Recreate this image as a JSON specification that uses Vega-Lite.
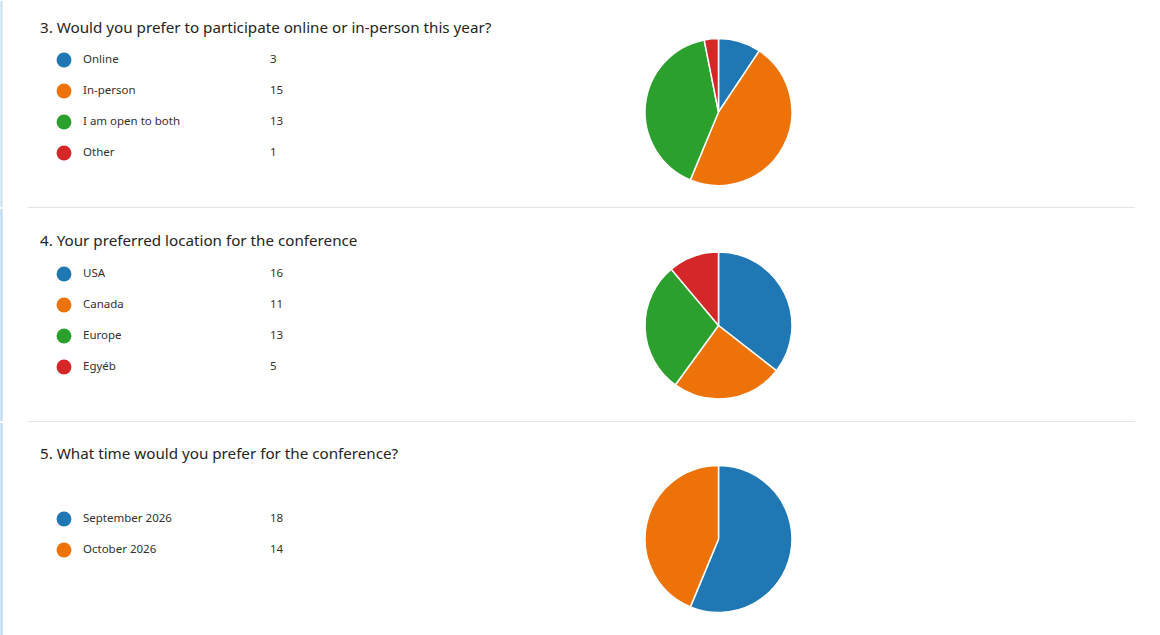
{
  "$schema": "https://vega.github.io/schema/vega-lite/v6.json",
  "background": "white",
  "padding": {"left": 0, "top": 0, "right": 0, "bottom": 0},
  "datasets": {
    "survey": [
      {"q": 3, "question": "3. Would you prefer to participate online or in-person this year?", "option": "Online", "count": 3, "order": 1},
      {"q": 3, "question": "3. Would you prefer to participate online or in-person this year?", "option": "In-person", "count": 15, "order": 2},
      {"q": 3, "question": "3. Would you prefer to participate online or in-person this year?", "option": "I am open to both", "count": 13, "order": 3},
      {"q": 3, "question": "3. Would you prefer to participate online or in-person this year?", "option": "Other", "count": 1, "order": 4},
      {"q": 4, "question": "4. Your preferred location for the conference", "option": "USA", "count": 16, "order": 1},
      {"q": 4, "question": "4. Your preferred location for the conference", "option": "Canada", "count": 11, "order": 2},
      {"q": 4, "question": "4. Your preferred location for the conference", "option": "Europe", "count": 13, "order": 3},
      {"q": 4, "question": "4. Your preferred location for the conference", "option": "Egyéb", "count": 5, "order": 4},
      {"q": 5, "question": "5. What time would you prefer for the conference?", "option": "September 2026", "count": 18, "order": 1},
      {"q": 5, "question": "5. What time would you prefer for the conference?", "option": "October 2026", "count": 14, "order": 2}
    ]
  },
  "data": {"name": "survey"},
  "spacing": 0,
  "config": {
    "view": {"stroke": null},
    "font": "Noto Sans",
    "axisX": {"domain": true, "domainColor": "#e3e3e3", "domainWidth": 1, "ticks": false, "labels": false, "grid": false}
  },
  "vconcat": [
    {
      "width": 1108, "height": 207,
      "transform": [{"filter": "datum.q == 3"}],
      "layer": [
        {
          "transform": [{"aggregate": [], "groupby": ["question"]}],
          "mark": {"type": "rule", "color": "#bcdbe8", "strokeWidth": 1, "xOffset": -26, "yOffset": 1, "y2Offset": -1},
          "encoding": {
            "x": {"field": "question", "type": "nominal", "bandPosition": 0, "title": null, "scale": {"type": "band", "paddingInner": 0, "paddingOuter": 0}}
          }
        },
        {
          "transform": [{"aggregate": [], "groupby": ["question"]}],
          "mark": {"type": "rule", "color": "#bcdbe8", "strokeWidth": 1, "xOffset": -25, "yOffset": 1, "y2Offset": -1},
          "encoding": {
            "x": {"field": "question", "type": "nominal", "bandPosition": 0, "title": null}
          }
        },
        {
          "transform": [{"aggregate": [], "groupby": ["question"]}],
          "mark": {"type": "text", "align": "left", "baseline": "middle", "fontSize": 15.2, "color": "#252423", "xOffset": 13, "yOffset": -76},
          "encoding": {
            "x": {"field": "question", "type": "nominal", "bandPosition": 0, "title": null},
            "text": {"field": "question"}
          }
        },
        {
          "mark": {"type": "point", "filled": true, "opacity": 1, "size": 220, "shape": "circle", "xOffset": 37},
          "encoding": {
            "x": {"field": "question", "type": "nominal", "bandPosition": 0, "title": null},
            "y": {"field": "option", "type": "nominal", "sort": null, "axis": null, "bandPosition": 0.5, "scale": {"type": "band", "paddingInner": 0, "paddingOuter": 0, "range": [44.5, 168.5]}},
            "color": {"field": "order", "type": "nominal", "legend": null, "scale": {"domain": [1, 2, 3, 4], "range": ["#1f77b4", "#ed7207", "#2ca02c", "#d62728"]}}
          }
        },
        {
          "mark": {"type": "text", "align": "left", "baseline": "middle", "fontSize": 11.5, "color": "#323130", "xOffset": 56},
          "encoding": {
            "x": {"field": "question", "type": "nominal", "bandPosition": 0, "title": null},
            "y": {"field": "option", "type": "nominal", "sort": null, "axis": null, "bandPosition": 0.5},
            "text": {"field": "option"}
          }
        },
        {
          "mark": {"type": "text", "align": "left", "baseline": "middle", "fontSize": 11.5, "color": "#323130", "xOffset": 243},
          "encoding": {
            "x": {"field": "question", "type": "nominal", "bandPosition": 0, "title": null},
            "y": {"field": "option", "type": "nominal", "sort": null, "axis": null, "bandPosition": 0.5},
            "text": {"field": "count"}
          }
        },
        {
          "mark": {"type": "arc", "outerRadius": 73.5, "stroke": "white", "strokeWidth": 1.5, "xOffset": 137.5, "yOffset": 8.5},
          "encoding": {
            "theta": {"field": "count", "type": "quantitative", "stack": true},
            "order": {"field": "order", "type": "quantitative"},
            "color": {"field": "order", "type": "nominal", "legend": null}
          }
        }
      ]
    },
    {
      "width": 1108, "height": 213,
      "transform": [{"filter": "datum.q == 4"}],
      "layer": [
        {
          "transform": [{"aggregate": [], "groupby": ["question"]}],
          "mark": {"type": "rule", "color": "#a9cff2", "strokeWidth": 1, "xOffset": -26, "yOffset": 1, "y2Offset": -1},
          "encoding": {
            "x": {"field": "question", "type": "nominal", "bandPosition": 0, "title": null, "scale": {"type": "band", "paddingInner": 0, "paddingOuter": 0}}
          }
        },
        {
          "transform": [{"aggregate": [], "groupby": ["question"]}],
          "mark": {"type": "rule", "color": "#a9cff2", "strokeWidth": 1, "xOffset": -25, "yOffset": 1, "y2Offset": -1},
          "encoding": {
            "x": {"field": "question", "type": "nominal", "bandPosition": 0, "title": null}
          }
        },
        {
          "transform": [{"aggregate": [], "groupby": ["question"]}],
          "mark": {"type": "text", "align": "left", "baseline": "middle", "fontSize": 15.2, "color": "#252423", "xOffset": 13, "yOffset": -73.5},
          "encoding": {
            "x": {"field": "question", "type": "nominal", "bandPosition": 0, "title": null},
            "text": {"field": "question"}
          }
        },
        {
          "mark": {"type": "point", "filled": true, "opacity": 1, "size": 220, "shape": "circle", "xOffset": 37},
          "encoding": {
            "x": {"field": "question", "type": "nominal", "bandPosition": 0, "title": null},
            "y": {"field": "option", "type": "nominal", "sort": null, "axis": null, "bandPosition": 0.5, "scale": {"type": "band", "paddingInner": 0, "paddingOuter": 0, "range": [50.5, 174.5]}},
            "color": {"field": "order", "type": "nominal", "legend": null}
          }
        },
        {
          "mark": {"type": "text", "align": "left", "baseline": "middle", "fontSize": 11.5, "color": "#323130", "xOffset": 56},
          "encoding": {
            "x": {"field": "question", "type": "nominal", "bandPosition": 0, "title": null},
            "y": {"field": "option", "type": "nominal", "sort": null, "axis": null, "bandPosition": 0.5},
            "text": {"field": "option"}
          }
        },
        {
          "mark": {"type": "text", "align": "left", "baseline": "middle", "fontSize": 11.5, "color": "#323130", "xOffset": 243},
          "encoding": {
            "x": {"field": "question", "type": "nominal", "bandPosition": 0, "title": null},
            "y": {"field": "option", "type": "nominal", "sort": null, "axis": null, "bandPosition": 0.5},
            "text": {"field": "count"}
          }
        },
        {
          "mark": {"type": "arc", "outerRadius": 73.5, "stroke": "white", "strokeWidth": 1.5, "xOffset": 137.5, "yOffset": 11},
          "encoding": {
            "theta": {"field": "count", "type": "quantitative", "stack": true},
            "order": {"field": "order", "type": "quantitative"},
            "color": {"field": "order", "type": "nominal", "legend": null}
          }
        }
      ]
    },
    {
      "width": 1108, "height": 213,
      "transform": [{"filter": "datum.q == 5"}],
      "layer": [
        {
          "transform": [{"aggregate": [], "groupby": ["question"]}],
          "mark": {"type": "rule", "color": "#a9cff2", "strokeWidth": 1, "xOffset": -26, "yOffset": 1, "y2Offset": -1},
          "encoding": {
            "x": {"field": "question", "type": "nominal", "bandPosition": 0, "title": null, "scale": {"type": "band", "paddingInner": 0, "paddingOuter": 0}}
          }
        },
        {
          "transform": [{"aggregate": [], "groupby": ["question"]}],
          "mark": {"type": "rule", "color": "#a9cff2", "strokeWidth": 1, "xOffset": -25, "yOffset": 1, "y2Offset": -1},
          "encoding": {
            "x": {"field": "question", "type": "nominal", "bandPosition": 0, "title": null}
          }
        },
        {
          "transform": [{"aggregate": [], "groupby": ["question"]}],
          "mark": {"type": "text", "align": "left", "baseline": "middle", "fontSize": 15.2, "color": "#252423", "xOffset": 13, "yOffset": -74.5},
          "encoding": {
            "x": {"field": "question", "type": "nominal", "bandPosition": 0, "title": null},
            "text": {"field": "question"}
          }
        },
        {
          "mark": {"type": "point", "filled": true, "opacity": 1, "size": 220, "shape": "circle", "xOffset": 37},
          "encoding": {
            "x": {"field": "question", "type": "nominal", "bandPosition": 0, "title": null},
            "y": {"field": "option", "type": "nominal", "sort": null, "axis": null, "bandPosition": 0.5, "scale": {"type": "band", "paddingInner": 0, "paddingOuter": 0, "range": [81.5, 143.5]}},
            "color": {"field": "order", "type": "nominal", "legend": null}
          }
        },
        {
          "mark": {"type": "text", "align": "left", "baseline": "middle", "fontSize": 11.5, "color": "#323130", "xOffset": 56},
          "encoding": {
            "x": {"field": "question", "type": "nominal", "bandPosition": 0, "title": null},
            "y": {"field": "option", "type": "nominal", "sort": null, "axis": null, "bandPosition": 0.5},
            "text": {"field": "option"}
          }
        },
        {
          "mark": {"type": "text", "align": "left", "baseline": "middle", "fontSize": 11.5, "color": "#323130", "xOffset": 243},
          "encoding": {
            "x": {"field": "question", "type": "nominal", "bandPosition": 0, "title": null},
            "y": {"field": "option", "type": "nominal", "sort": null, "axis": null, "bandPosition": 0.5},
            "text": {"field": "count"}
          }
        },
        {
          "mark": {"type": "arc", "outerRadius": 73.5, "stroke": "white", "strokeWidth": 1.5, "xOffset": 137.5, "yOffset": 10.5},
          "encoding": {
            "theta": {"field": "count", "type": "quantitative", "stack": true},
            "order": {"field": "order", "type": "quantitative"},
            "color": {"field": "order", "type": "nominal", "legend": null}
          }
        }
      ]
    }
  ]
}
